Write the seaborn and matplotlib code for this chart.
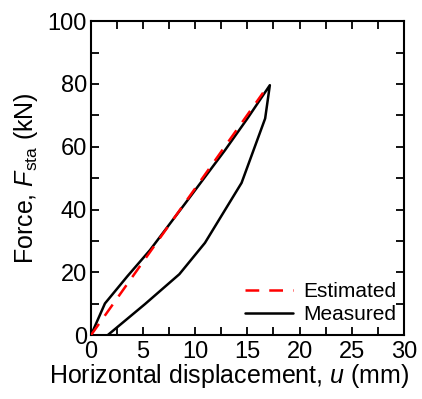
import matplotlib
matplotlib.use("Agg")
import matplotlib.pyplot as plt
import seaborn as sns
import pandas as pd
from matplotlib.ticker import MultipleLocator

sns.set_style("ticks")
plt.rcParams['font.family'] = ['Liberation Sans', 'DejaVu Sans']
plt.rcParams['mathtext.fontset'] = 'custom'
plt.rcParams['mathtext.rm'] = 'Liberation Sans'
plt.rcParams['mathtext.it'] = 'Liberation Sans:italic'
for k in ['text.color', 'axes.labelcolor', 'xtick.color', 'ytick.color', 'axes.edgecolor']:
    plt.rcParams[k] = 'black'

# Measured loop (loading then unloading)
meas_u = [0.0, 1.34, 3.5, 5.66, 9.0, 12.85, 15.0, 17.15, 16.7, 14.44, 10.93, 8.47, 5.18, 1.6]
meas_f = [0.0, 10.1, 18.8, 27.1, 41.8, 58.9, 69.0, 79.6, 69.0, 48.5, 29.4, 19.4, 9.9, 0.0]
# Estimated line
est_u = [0.0, 16.5]
est_f = [0.0, 77.2]

df_m = pd.DataFrame({"u": meas_u, "F": meas_f})
df_e = pd.DataFrame({"u": est_u, "F": est_f})

fig = plt.figure(figsize=(4.22, 3.99), dpi=100)
ax = fig.add_axes([0.2156, 0.160, 0.7414, 0.787])

sns.lineplot(data=df_e, x="u", y="F", sort=False, ax=ax, color="red",
             linestyle=(0, (5.5, 4)), linewidth=1.8, label="Estimated", zorder=3)
sns.lineplot(data=df_m, x="u", y="F", sort=False, ax=ax, color="black",
             linewidth=1.8, label="Measured", zorder=2)

ax.set_xlim(0, 30)
ax.set_ylim(0, 100)
ax.xaxis.set_major_locator(MultipleLocator(5))
ax.xaxis.set_minor_locator(MultipleLocator(2.5))
ax.yaxis.set_major_locator(MultipleLocator(20))
ax.yaxis.set_minor_locator(MultipleLocator(10))
ax.tick_params(which='both', direction='in', top=True, right=True, width=1.3, labelsize=17)
ax.tick_params(axis='x', pad=4)
ax.tick_params(axis='y', pad=3)
ax.tick_params(which='major', length=6)
ax.tick_params(which='minor', length=6)
for s in ax.spines.values():
    s.set_linewidth(1.5)
    s.set_visible(True)

ax.set_xlabel(r"Horizontal displacement, $\mathit{u}$ (mm)", fontsize=18)
ax.set_ylabel(r"Force, $\mathit{F}_{\mathrm{sta}}$ (kN)", fontsize=18)
ax.xaxis.set_label_coords(0.441, -0.086)
ax.yaxis.set_label_coords(-0.162, 0.5)

leg = ax.legend(loc="lower right", bbox_to_anchor=(0.976, 0.035), frameon=False,
                fontsize=15, handlelength=2.3, borderpad=0, borderaxespad=0,
                labelspacing=0.2, handletextpad=0.5)

fig.savefig("out.png", dpi=100)
